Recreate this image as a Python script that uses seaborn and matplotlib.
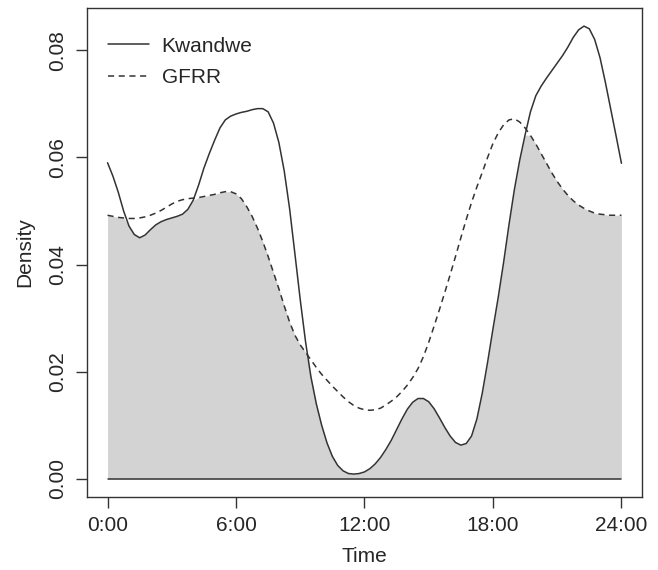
import numpy as np
import pandas as pd
import matplotlib
matplotlib.use("Agg")
import matplotlib.pyplot as plt
import seaborn as sns

hours = [i * 0.25 for i in range(97)]
kwandwe = [0.0590, 0.0565, 0.0535, 0.0500, 0.0472, 0.0456, 0.0450, 0.0455, 0.0465, 0.0474,
           0.0480, 0.0484, 0.0487, 0.0490, 0.0494, 0.0503, 0.0520, 0.0548, 0.0580, 0.0607,
           0.0632, 0.0655, 0.0670, 0.0677, 0.0681, 0.0684, 0.0686, 0.0689, 0.0691, 0.0691,
           0.0685, 0.0664, 0.0628, 0.0575, 0.0505, 0.0420, 0.0334, 0.0255, 0.0190, 0.0140,
           0.0100, 0.0067, 0.0042, 0.0025, 0.0015, 0.0010, 0.0009, 0.0010, 0.0013, 0.0019,
           0.0028, 0.0040, 0.0055, 0.0072, 0.0092, 0.0112, 0.0130, 0.0143, 0.0150, 0.0150,
           0.0144, 0.0131, 0.0114, 0.0096, 0.0080, 0.0068, 0.0063, 0.0066, 0.0080, 0.0112,
           0.0160, 0.0218, 0.0280, 0.0340, 0.0405, 0.0475, 0.0540, 0.0595, 0.0642, 0.0685,
           0.0715, 0.0733, 0.0748, 0.0762, 0.0776, 0.0790, 0.0806, 0.0824, 0.0838, 0.0845,
           0.0840, 0.0820, 0.0786, 0.0740, 0.0690, 0.0640, 0.0589]
gfrr = [0.0492, 0.0490, 0.0488, 0.0487, 0.0486, 0.0486, 0.0487, 0.0489, 0.0492, 0.0496,
        0.0501, 0.0507, 0.0513, 0.0518, 0.0521, 0.0523, 0.0524, 0.0525, 0.0527, 0.0529,
        0.0531, 0.0534, 0.0536, 0.0536, 0.0532, 0.0523, 0.0508, 0.0490, 0.0468, 0.0443,
        0.0415, 0.0385, 0.0355, 0.0323, 0.0293, 0.0268, 0.0250, 0.0236, 0.0222, 0.0208,
        0.0195, 0.0184, 0.0173, 0.0163, 0.0153, 0.0144, 0.0137, 0.0132, 0.0129, 0.0128,
        0.0129, 0.0132, 0.0138, 0.0145, 0.0153, 0.0163, 0.0175, 0.0189, 0.0206, 0.0228,
        0.0255, 0.0285, 0.0316, 0.0348, 0.0381, 0.0415, 0.0450, 0.0484, 0.0516, 0.0545,
        0.0572, 0.0600, 0.0626, 0.0646, 0.0661, 0.0670, 0.0672, 0.0666, 0.0655, 0.0641,
        0.0625, 0.0607, 0.0589, 0.0571, 0.0555, 0.0541, 0.0529, 0.0519, 0.0511, 0.0505,
        0.0500, 0.0496, 0.0494, 0.0493, 0.0492, 0.0492, 0.0492]
series_names = ["Kwandwe", "GFRR"]
xtick_vals = [0, 6, 12, 18, 24]
xtick_labels = ["0:00", "6:00", "12:00", "18:00", "24:00"]
ytick_vals = [0.00, 0.02, 0.04, 0.06, 0.08]

sns.set_style("ticks")
plt.rcParams['font.family'] = ['Liberation Sans', 'DejaVu Sans']

df = pd.DataFrame({"Time": hours, "Kwandwe": kwandwe, "GFRR": gfrr})

fig = plt.figure(figsize=(6.58, 5.70), dpi=100)
ax = fig.add_axes([87/658, 73/570, (642-87)/658, (497-8)/570])

overlap = np.minimum(df["Kwandwe"].values, df["GFRR"].values)
ax.fill_between(df["Time"], 0, overlap, color="#d3d3d3", linewidth=0, zorder=1)
ax.plot([hours[0], hours[-1]], [0, 0], color="#333333", lw=1.1, zorder=2)

line_col = "#333333"
sns.lineplot(data=df, x="Time", y="Kwandwe", ax=ax, color=line_col, lw=1.1,
             label=series_names[0], zorder=3)
sns.lineplot(data=df, x="Time", y="GFRR", ax=ax, color=line_col, lw=1.1,
             linestyle=(0, (4, 3)), label=series_names[1], zorder=3)

dmax = max(max(kwandwe), max(gfrr))
ax.set_xlim(-0.96, 24.96)
ax.set_ylim(-0.04 * dmax, dmax * 1.04)
ax.set_xticks(xtick_vals)
ax.set_xticklabels(xtick_labels)
ax.set_yticks(ytick_vals)
ax.set_yticklabels([f"{v:.2f}" for v in ytick_vals], rotation=90, va="center")

ax.set_xlabel("Time", fontsize=15, labelpad=8)
ax.set_ylabel("Density", fontsize=15, labelpad=10)
ax.tick_params(axis="both", labelsize=15, length=8, width=1, color="#333333",
               direction="out", pad=6)
for s in ax.spines.values():
    s.set_visible(True)
    s.set_color("#333333")
    s.set_linewidth(1)

leg = ax.legend(loc="upper left", frameon=False, fontsize=15, handlelength=1.95,
                handletextpad=0.62, labelspacing=0.62, bbox_to_anchor=(0.004, 0.98))

fig.savefig("out.png", dpi=100)
